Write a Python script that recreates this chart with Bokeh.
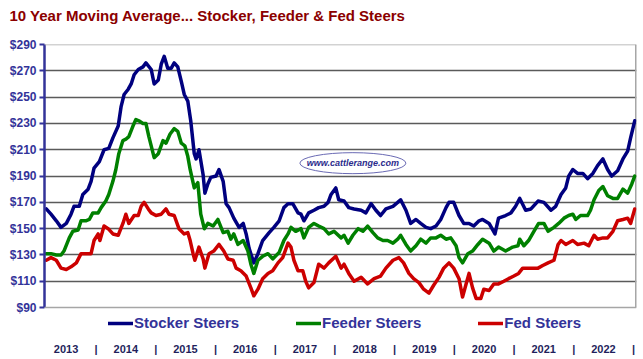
from bokeh.plotting import figure
from bokeh.models import Range1d, FixedTicker, PrintfTickFormatter, LinearAxis, Legend, LegendItem, Span
from bokeh.embed import file_html
from bokeh.resources import INLINE
from bokeh.core.properties import value

# ---------------- data (decimal years, $/cwt) ----------------
stocker_t = [2013.02, 2013.10, 2013.19, 2013.27, 2013.36, 2013.44, 2013.49, 2013.58, 2013.64, 2013.73,
             2013.78, 2013.83, 2013.92, 2014.00, 2014.08, 2014.15, 2014.24, 2014.29, 2014.34, 2014.41,
             2014.46, 2014.51, 2014.58, 2014.66, 2014.71, 2014.80, 2014.85, 2014.92, 2014.97, 2015.02,
             2015.08, 2015.14, 2015.19, 2015.25, 2015.31, 2015.36, 2015.42, 2015.47, 2015.53, 2015.56,
             2015.61, 2015.68, 2015.71, 2015.76, 2015.81, 2015.90, 2015.95, 2016.02, 2016.07, 2016.12,
             2016.20, 2016.29, 2016.36, 2016.41, 2016.46, 2016.54, 2016.61, 2016.69, 2016.80, 2016.88,
             2016.97, 2017.05, 2017.12, 2017.20, 2017.29, 2017.34, 2017.39, 2017.47, 2017.56, 2017.64,
             2017.73, 2017.80, 2017.85, 2017.93, 2017.98, 2018.07, 2018.15, 2018.24, 2018.36, 2018.44,
             2018.53, 2018.61, 2018.69, 2018.78, 2018.90, 2018.98, 2019.03, 2019.12, 2019.20, 2019.29,
             2019.37, 2019.46, 2019.54, 2019.63, 2019.71, 2019.80, 2019.85, 2019.93, 2020.02, 2020.10,
             2020.19, 2020.27, 2020.36, 2020.42, 2020.53, 2020.63, 2020.69, 2020.81, 2020.90, 2020.98,
             2021.05, 2021.15, 2021.24, 2021.36, 2021.46, 2021.58, 2021.66, 2021.75, 2021.83, 2021.88,
             2021.95, 2022.03, 2022.12, 2022.20, 2022.29, 2022.37, 2022.46, 2022.54, 2022.61, 2022.71,
             2022.80, 2022.88, 2022.93, 2023.00]
stocker_v = [165, 161, 156, 151, 154, 161, 167, 167, 176, 180,
             186, 196, 201, 210, 211, 219, 228, 243, 252, 256,
             260, 267, 271, 273, 276, 271, 260, 263, 275, 281,
             272, 272, 276, 273, 262, 252, 247, 232, 207, 203,
             210, 191, 177, 184, 189, 190, 195, 186, 169, 166,
             158, 151, 154, 146, 135, 124, 131, 141, 147, 151,
             156, 166, 169, 169, 162, 161, 156, 162, 164, 166,
             167, 170, 176, 181, 172, 171, 166, 165, 164, 162,
             169, 164, 160, 165, 167, 170, 172, 164, 154, 157,
             154, 151, 150, 152, 157, 166, 170, 170, 160, 154,
             154, 152, 156, 157, 154, 146, 158, 160, 162, 167,
             173, 164, 165, 171, 170, 164, 167, 176, 181, 190,
             195, 192, 192, 188, 192, 198, 203, 195, 190, 194,
             203, 209, 219, 232]

feeder_t = [2013.02, 2013.10, 2013.19, 2013.27, 2013.32, 2013.41, 2013.47, 2013.56, 2013.61, 2013.69,
            2013.75, 2013.81, 2013.90, 2013.95, 2014.03, 2014.08, 2014.15, 2014.20, 2014.25, 2014.32,
            2014.37, 2014.42, 2014.49, 2014.54, 2014.59, 2014.66, 2014.71, 2014.76, 2014.85, 2014.92,
            2015.00, 2015.05, 2015.12, 2015.19, 2015.25, 2015.31, 2015.37, 2015.42, 2015.46, 2015.49,
            2015.53, 2015.59, 2015.64, 2015.70, 2015.76, 2015.85, 2015.93, 2016.02, 2016.10, 2016.15,
            2016.20, 2016.27, 2016.36, 2016.44, 2016.49, 2016.54, 2016.61, 2016.69, 2016.78, 2016.86,
            2016.97, 2017.05, 2017.12, 2017.17, 2017.25, 2017.34, 2017.39, 2017.47, 2017.56, 2017.64,
            2017.73, 2017.81, 2017.90, 2018.02, 2018.07, 2018.14, 2018.22, 2018.31, 2018.39, 2018.47,
            2018.56, 2018.64, 2018.73, 2018.81, 2018.90, 2018.98, 2019.03, 2019.12, 2019.20, 2019.29,
            2019.37, 2019.46, 2019.54, 2019.63, 2019.71, 2019.80, 2019.88, 2019.97, 2020.02, 2020.08,
            2020.17, 2020.25, 2020.34, 2020.42, 2020.53, 2020.61, 2020.69, 2020.81, 2020.93, 2021.02,
            2021.05, 2021.12, 2021.20, 2021.29, 2021.37, 2021.46, 2021.53, 2021.63, 2021.71, 2021.80,
            2021.88, 2021.95, 2022.00, 2022.08, 2022.20, 2022.25, 2022.31, 2022.39, 2022.46, 2022.54,
            2022.63, 2022.71, 2022.80, 2022.88, 2022.95, 2023.00]
feeder_v = [131, 131, 130, 130, 133, 143, 148, 149, 156, 156,
            157, 162, 162, 166, 171, 176, 186, 195, 207, 217,
            218, 220, 228, 233, 232, 230, 230, 220, 204, 207,
            217, 215, 222, 226, 224, 215, 213, 205, 195, 189,
            181, 185, 161, 150, 154, 152, 157, 147, 148, 142,
            146, 138, 141, 133, 123, 116, 126, 129, 131, 127,
            132, 141, 146, 151, 148, 150, 143, 151, 154, 152,
            150, 146, 148, 143, 145, 139, 145, 150, 148, 152,
            147, 143, 141, 141, 139, 142, 145, 138, 133, 137,
            142, 139, 143, 143, 145, 142, 143, 137, 128, 124,
            131, 133, 138, 142, 139, 133, 136, 133, 136, 137,
            142, 137, 141, 148, 154, 154, 148, 151, 154, 158,
            160, 161, 157, 160, 160, 164, 172, 179, 182, 175,
            173, 173, 180, 177, 184, 190]

fed_t = [2013.02, 2013.10, 2013.19, 2013.27, 2013.36, 2013.44, 2013.53, 2013.61, 2013.69, 2013.78,
         2013.83, 2013.90, 2013.93, 2014.00, 2014.07, 2014.15, 2014.24, 2014.32, 2014.37, 2014.42,
         2014.51, 2014.58, 2014.63, 2014.68, 2014.75, 2014.80, 2014.88, 2014.97, 2015.05, 2015.10,
         2015.19, 2015.27, 2015.36, 2015.42, 2015.46, 2015.51, 2015.54, 2015.61, 2015.68, 2015.71,
         2015.78, 2015.86, 2015.95, 2016.03, 2016.10, 2016.19, 2016.24, 2016.32, 2016.41, 2016.49,
         2016.54, 2016.61, 2016.69, 2016.78, 2016.86, 2016.95, 2017.03, 2017.12, 2017.17, 2017.22,
         2017.29, 2017.37, 2017.42, 2017.47, 2017.56, 2017.64, 2017.73, 2017.81, 2017.93, 2018.02,
         2018.07, 2018.15, 2018.24, 2018.36, 2018.47, 2018.58, 2018.69, 2018.78, 2018.90, 2019.00,
         2019.08, 2019.17, 2019.25, 2019.34, 2019.42, 2019.51, 2019.59, 2019.68, 2019.76, 2019.85,
         2019.93, 2020.02, 2020.08, 2020.14, 2020.19, 2020.25, 2020.31, 2020.39, 2020.44, 2020.53,
         2020.61, 2020.69, 2020.78, 2020.86, 2020.95, 2021.03, 2021.10, 2021.19, 2021.27, 2021.36,
         2021.44, 2021.53, 2021.63, 2021.70, 2021.75, 2021.83, 2021.95, 2022.03, 2022.14, 2022.22,
         2022.31, 2022.37, 2022.46, 2022.54, 2022.63, 2022.71, 2022.80, 2022.88, 2022.93, 2023.00]
fed_v = [126, 128, 126, 120, 119, 121, 124, 131, 131, 131,
         141, 146, 141, 152, 150, 146, 145, 154, 161, 154,
         160, 160, 167, 170, 165, 162, 160, 161, 165, 161,
         160, 150, 146, 147, 141, 131, 126, 136, 127, 120,
         131, 133, 138, 133, 127, 126, 120, 118, 114, 105,
         99, 104, 112, 116, 118, 124, 128, 139, 136, 126,
         118, 118, 110, 105, 109, 123, 120, 124, 129, 120,
         123, 116, 110, 113, 108, 112, 114, 120, 126, 128,
         124, 116, 112, 109, 104, 101, 107, 113, 120, 124,
         120, 112, 98, 108, 116, 105, 97, 97, 104, 103,
         108, 108, 110, 112, 114, 116, 120, 120, 120, 120,
         122, 124, 126, 138, 141, 138, 141, 138, 139, 137,
         145, 142, 143, 143, 148, 156, 157, 158, 154, 165]

series_names = ["Stocker Steers", "Feeder Steers", "Fed Steers"]
series_colors = ["#00007F", "#008000", "#CC0000"]
y_ticks = [90, 110, 130, 150, 170, 190, 210, 230, 250, 270, 290]
year_labels = ["2013", "2014", "2015", "2016", "2017", "2018", "2019", "2020", "2021", "2022"]
title_text = "10 Year Moving Average... Stocker, Feeder & Fed Steers"
watermark_text = "www.cattlerange.com"

NAVY = "#333399"
Y_MIN, Y_MAX = 90, 290
X_START, X_END = 2012.99, 2023.03

# the frame extends below $90 to make room for the legend strip
p = figure(width=643, height=359, output_backend="svg", toolbar_location=None,
           x_range=Range1d(X_START, X_END), y_range=Range1d(68.8, Y_MAX),
           x_axis_location=None,
           min_border_left=44, min_border_right=7, min_border_top=43, min_border_bottom=24,
           background_fill_color="white", border_fill_color="white")

# trailing empty line lifts the title toward the top edge, as in the original
p.title.text = title_text + "\n "
p.title.text_font = "Liberation Sans"
p.title.text_font_size = "15px"
p.title.text_font_style = "bold"
p.title.text_color = "#8B0000"
p.title.align = "left"
p.title.offset = -35
p.title.standoff = 8

p.outline_line_color = None

p.yaxis.ticker = FixedTicker(ticks=y_ticks)
p.yaxis.bounds = (Y_MIN, Y_MAX)
p.yaxis.formatter = PrintfTickFormatter(format="$%d")
p.yaxis.axis_line_color = NAVY
p.yaxis.axis_line_width = 2.5
p.yaxis.major_tick_line_color = NAVY
p.yaxis.major_tick_line_width = 2
p.yaxis.major_tick_out = 5
p.yaxis.major_tick_in = 0
p.yaxis.minor_tick_line_color = None
p.yaxis.major_label_text_font = "Liberation Sans"
p.yaxis.major_label_text_font_size = "12px"
p.yaxis.major_label_text_font_style = "bold"
p.yaxis.major_label_text_color = NAVY
p.yaxis.major_label_standoff = 3

p.xgrid.visible = False
p.ygrid.ticker = FixedTicker(ticks=y_ticks[1:-1])
p.ygrid.grid_line_color = "#5a5a5a"
p.ygrid.grid_line_width = 1.5

# plot-area border (top, bottom, right)
for yb in (Y_MIN, Y_MAX):
    p.add_layout(Span(location=yb, dimension="width", line_color="#a6a6a6", line_width=1.5))
p.segment(x0=[X_END], y0=[Y_MIN], x1=[X_END], y1=[Y_MAX], line_color="#a6a6a6", line_width=3)

# watermark
wm_x, wm_y = 2018.22, 199.8
p.ellipse(x=[wm_x], y=[wm_y], width=106, height=21, width_units="screen", height_units="screen",
          fill_color="white", line_color="#6a6ab4", line_width=1)
p.text(x=[wm_x], y=[wm_y], text=[watermark_text], text_font=value("Liberation Sans"),
       text_font_style="bold italic", text_font_size="9px", text_color="#2B2B8C",
       text_align="center", text_baseline="middle")

renderers = []
for t, v, c in zip([stocker_t, feeder_t, fed_t], [stocker_v, feeder_v, fed_v], series_colors):
    r = p.line(t, v, line_color=c, line_width=3.5, line_join="round", line_cap="round")
    renderers.append(r)

legend = Legend(items=[LegendItem(label=n, renderers=[r]) for n, r in zip(series_names, renderers)],
                orientation="horizontal", location=(60, 0),
                label_text_font="Liberation Sans", label_text_font_style="bold",
                label_text_font_size="15px", label_text_color=NAVY,
                glyph_width=25, glyph_height=14, label_standoff=1, spacing=57,
                border_line_alpha=0, background_fill_alpha=0, padding=4, margin=0)
p.add_layout(legend, "center")

lab_pos = [round(2013.356 + 1.0126 * i, 3) for i in range(len(year_labels))]
sep_pos = [round(2013.865 + 1.0126 * i, 3) for i in range(len(year_labels))]
overrides = {pos: lab for pos, lab in zip(lab_pos, year_labels)}
overrides.update({pos: "|" for pos in sep_pos})
xaxis = LinearAxis(ticker=FixedTicker(ticks=sorted(lab_pos + sep_pos)),
                   major_label_overrides=overrides,
                   axis_line_color=None, major_tick_line_color=None, minor_tick_line_color=None,
                   major_tick_out=0, major_tick_in=0,
                   major_label_text_font="Liberation Sans", major_label_text_font_size="11px",
                   major_label_text_font_style="bold", major_label_text_color="#1F1F5C",
                   major_label_standoff=7)
p.add_layout(xaxis, "below")

open("out.html", "w").write(file_html(p, INLINE))
